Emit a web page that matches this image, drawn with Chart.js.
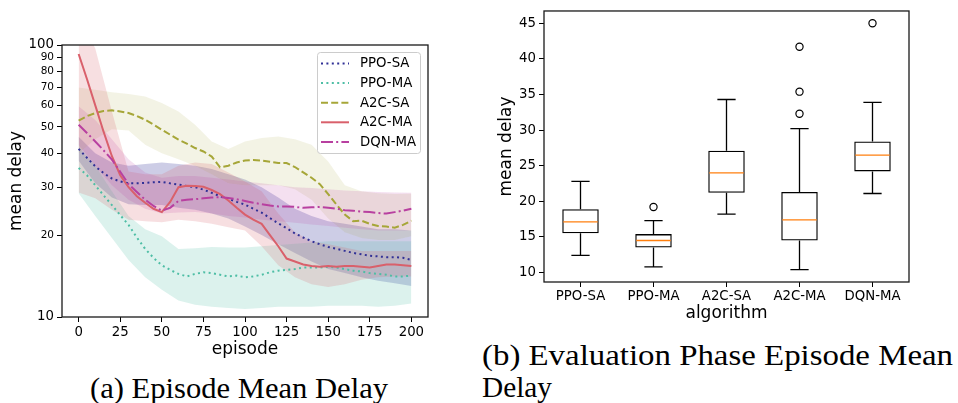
<!DOCTYPE html>
<html>
<head>
<meta charset="utf-8">
<script src="https://cdn.jsdelivr.net/npm/chart.js@4.4.0/dist/chart.umd.min.js"></script>
<style>
body{margin:0;background:#fff;width:958px;height:403px;overflow:hidden;position:relative;}
canvas{position:absolute;top:0;}
#c1{left:0;}
#c2{left:480px;}
.cap{position:absolute;margin:0;font-family:"Liberation Serif",serif;font-size:29px;line-height:29px;white-space:nowrap;transform-origin:0 0;color:#000;}
</style>
</head>
<body>
<canvas id="c1" width="440" height="360"></canvas>
<canvas id="c2" width="478" height="330"></canvas>
<p class="cap" style="left:90px;top:374px" data-w="298">(a) Episode Mean Delay</p>
<p class="cap" style="left:482px;top:341px" data-w="471">(b) Evaluation Phase Episode Mean</p>
<p class="cap" style="left:482px;top:373px" data-w="70">Delay</p>
<script>
'use strict';
// training curves (left), sampled every 5 episodes
const episodes = [0,5,10,15,20,25,30,35,40,45,50,55,60,65,70,75,80,85,90,95,100,105,110,115,120,125,130,135,140,145,150,155,160,165,170,175,180,185,190,195,200];
const ppoSaMean = [41.5,38.5,35.8,33.8,32.3,31.5,31.0,31.0,31.1,31.3,31.4,31.0,30.7,30.3,30.0,29.4,28.6,27.8,27.2,26.5,25.9,25.0,24.2,23.1,22.1,21.2,20.3,19.6,19.0,18.5,18.1,17.8,17.5,17.2,17.0,16.8,16.7,16.6,16.6,16.5,16.2];
const ppoMaMean = [35.3,33.2,30.5,28.0,25.8,23.7,21.8,19.6,17.8,16.5,15.5,14.9,14.4,14.1,14.4,14.6,14.5,14.3,14.1,14.2,14.0,14.1,14.3,14.6,14.8,14.9,15.0,15.2,15.2,15.2,15.3,15.2,15.0,14.8,14.7,14.5,14.4,14.3,14.1,14.1,14.2];
const a2cSaMean = [52.7,54.8,56.2,57.2,57.5,57.0,56.2,54.8,53.1,51.0,48.8,46.8,44.9,43.4,41.8,40.6,38.9,35.5,36.0,37.0,37.6,37.8,37.6,37.2,36.8,36.8,35.6,34.0,32.5,30.8,28.3,25.9,23.8,22.5,22.6,22.0,21.6,21.5,21.3,21.8,22.6];
const a2cMaMean = [92.7,75.0,60.0,48.0,39.0,33.2,30.0,27.8,26.3,25.0,24.3,26.5,30.0,30.4,30.3,30.1,29.3,28.3,26.8,25.2,23.8,22.8,22.0,20.0,18.2,16.4,16.0,15.6,15.4,15.3,15.4,15.3,15.4,15.4,15.3,15.2,15.4,15.6,15.6,15.5,15.4];
const dqnMaMean = [50.9,47.5,44.2,41.0,37.9,34.2,30.8,28.8,27.0,25.6,24.6,25.2,26.7,27.0,27.1,27.3,27.5,27.6,27.4,27.1,26.7,26.3,26.0,25.7,25.5,25.5,25.4,25.2,25.3,25.4,25.2,25.0,24.7,24.6,24.4,24.3,24.1,24.0,24.3,24.6,25.0];

// spread bands, every 10 episodes
const bandEpisodes = [0,10,20,30,40,50,60,70,80,90,100,110,120,130,140,150,160,170,180,190,200];
const ppoSaHi = [46,40,37,36,36.5,37,36.5,36,35,33.5,32,30,27.5,25,23.5,22.5,22,21.5,21,21,20.8];
const ppoSaLo = [37.5,31,27.5,26,25.8,25.8,25.2,24.8,24,23,21.5,20,18.5,17.2,16,15,14.5,14,13.6,13.3,13.0];
const ppoMaHi = [42,36,29,23.5,21,19.8,17.8,17.9,18.1,18.0,18.0,18.2,18.4,18.6,18.8,19.0,19.0,19.0,19.0,19.0,19.0];
const ppoMaLo = [28.5,23.5,19.5,16.2,14.0,12.6,11.5,11.1,10.9,10.8,10.7,10.8,10.9,10.9,10.9,11.0,11.0,11.0,10.9,11.0,11.2];
const a2cSaHi = [69.8,68.5,67.1,66,64.7,61.2,57.0,50.9,44.2,41.5,44.2,45.5,46.1,45,43.0,37.3,30.5,29,28.5,28.3,28.4];
const a2cSaLo = [40,45,49,48.5,43,40,38,36,33.5,31,30.5,30.5,30.5,29.5,27,23,20.5,19.5,19.2,19.2,19.8];
const a2cMaHi = [130,97,57,34.3,33.5,33.5,36,37,36.5,34,31.5,29,24,20.5,19,18.5,18,17.5,17.5,17.5,17.5];
const a2cMaLo = [28.7,27.3,24.8,22.8,22.5,22.3,22.8,22.5,22.0,21.4,20.8,18.2,15.5,14.0,13.2,12.9,13.2,13.7,14.0,14.1,14.1];
const dqnMaHi = [59.5,53,45,38,34,32.5,33,33,32.5,32,31.5,31,30.5,30,29.8,29.5,29.2,29,28.8,28.7,28.6];
const dqnMaLo = [43,36,30.5,27,25,24,24.2,24.3,24.0,23.5,23.2,22.8,22.5,22.2,21.9,21.6,21.3,21.0,20.8,20.8,20.8];

const episodeTicks = [0,25,50,75,100,125,150,175,200];
const delayTicks = [10,20,30,40,50,60,70,80,90,100];

// evaluation box plot (right)
const algorithms = ['PPO-SA','PPO-MA','A2C-SA','A2C-MA','DQN-MA'];
const whiskerLow = [12.4,10.8,18.2,10.4,21.1];
const q1 = [15.5,13.5,21.2,14.5,24.2];
const median = [17.1,14.5,24.0,17.4,26.5];
const q3 = [18.9,15.4,27.1,21.3,28.4];
const whiskerHigh = [22.8,17.3,34.3,30.2,33.9];
const outlierAlgs = ['PPO-MA','A2C-MA','A2C-MA','A2C-MA','DQN-MA'];
const outlierValues = [19.2,32.3,35.4,41.7,45.0];
const boxTicks = [10,15,20,25,30,35,40,45];

const FONT = 'DejaVu Sans';
const tickFont = {family: FONT, size: 13.3};
const titleFont = {family: FONT, size: 17, lineHeight: 1};

const series = [
	{label: 'PPO-SA', mean: ppoSaMean, hi: ppoSaHi, lo: ppoSaLo, color: [48,48,150], band: 0.24, dash: [2,3.4]},
	{label: 'PPO-MA', mean: ppoMaMean, hi: ppoMaHi, lo: ppoMaLo, color: [78,190,165], band: 0.2, dash: [2,3.4]},
	{label: 'A2C-SA', mean: a2cSaMean, hi: a2cSaHi, lo: a2cSaLo, color: [166,166,56], band: 0.13, dash: [7,3.2]},
	{label: 'A2C-MA', mean: a2cMaMean, hi: a2cMaHi, lo: a2cMaLo, color: [217,96,107], band: 0.2, dash: []},
	{label: 'DQN-MA', mean: dqnMaMean, hi: dqnMaHi, lo: dqnMaLo, color: [184,64,160], band: 0.16, dash: [12,3.2,2,3.2]}
];
const rgba = (c, a) => 'rgba(' + c.join(',') + ',' + a + ')';
const pts = (xs, ys) => xs.map((x, i) => ({x: x, y: ys[i]}));

// axes frame on all four sides
const framePlugin = {
	id: 'frame',
	afterDatasetsDraw(chart) {
		const a = chart.chartArea, ctx = chart.ctx;
		ctx.save();
		ctx.strokeStyle = '#1a1a1a';
		ctx.lineWidth = 1.3;
		ctx.strokeRect(a.left, a.top, a.right - a.left, a.bottom - a.top);
		ctx.restore();
	}
};

// matplotlib-style legend box, top right
const lineLegend = {
	id: 'lineLegend',
	afterDraw(chart) {
		const ctx = chart.ctx;
		const lines = chart.data.datasets.filter(d => d.isMean);
		ctx.save();
		ctx.beginPath();
		ctx.roundRect(317.5, 52.5, 103, 101, 3);
		ctx.fillStyle = 'rgba(255,255,255,0.8)';
		ctx.fill();
		ctx.strokeStyle = '#cccccc';
		ctx.lineWidth = 1;
		ctx.stroke();
		lines.forEach((d, i) => {
			const y = 63.5 + i * 19.6;
			ctx.beginPath();
			ctx.setLineDash(d.borderDash);
			ctx.strokeStyle = d.borderColor;
			ctx.lineWidth = d.borderWidth;
			ctx.moveTo(321, y);
			ctx.lineTo(349, y);
			ctx.stroke();
			ctx.setLineDash([]);
			ctx.fillStyle = '#000';
			ctx.font = '13.3px "' + FONT + '"';
			ctx.textBaseline = 'middle';
			ctx.fillText(d.label, 360, y + 0.5);
		});
		ctx.restore();
	}
};

const buildCurveDatasets = () => {
	let sets = [];
	series.forEach((s, i) => {
		sets.push({label: '', data: pts(bandEpisodes, s.hi), fill: '+1', backgroundColor: rgba(s.color, s.band),
			borderColor: 'transparent', borderWidth: 0, pointRadius: 0, order: 40 - i * 2});
		sets.push({label: '', data: pts(bandEpisodes, s.lo), fill: false,
			borderColor: 'transparent', borderWidth: 0, pointRadius: 0, order: 39 - i * 2});
	});
	series.forEach((s, i) => {
		sets.push({label: s.label, isMean: true, data: pts(episodes, s.mean), fill: false,
			borderColor: rgba(s.color, 1), borderWidth: 2, borderDash: s.dash, borderCapStyle: 'butt',
			pointRadius: 0, tension: 0, order: 10 - i});
	});
	return sets;
};

const createCurveChart = () => {
	new Chart(document.getElementById('c1'), {
		type: 'line',
		data: {datasets: buildCurveDatasets()},
		options: {
			responsive: false,
			animation: false,
			events: [],
			layout: {padding: {top: 45, right: 12, left: 0, bottom: 0}},
			plugins: {legend: {display: false}, tooltip: {enabled: false}},
			scales: {
				x: {
					type: 'linear', min: -10, max: 210,
					afterBuildTicks: s => { s.ticks = episodeTicks.map(v => ({value: v})); },
					afterFit: s => { s.height = 43; },
					grid: {drawOnChartArea: false, tickLength: 5, color: '#000'},
					border: {display: false},
					ticks: {padding: 3, font: tickFont, color: '#000', maxRotation: 0, autoSkip: false, callback: v => String(v)},
					title: {display: true, text: 'episode', font: titleFont, color: '#000', padding: {top: 0, bottom: 1.5}}
				},
				y: {
					type: 'logarithmic', min: 10, max: 100,
					afterBuildTicks: s => { s.ticks = delayTicks.map(v => ({value: v})); },
					afterFit: s => { s.width = 62; },
					grid: {drawOnChartArea: false, tickLength: 5, color: '#000'},
					border: {display: false},
					ticks: {
						padding: 3, color: '#000', autoSkip: false, callback: v => String(v),
						font: c => ({family: FONT, size: (c.tick && (c.tick.value === 10 || c.tick.value === 100)) ? 13.3 : 10.5})
					},
					title: {display: true, text: 'mean delay', font: titleFont, color: '#000', padding: {top: 8, bottom: 0}}
				}
			}
		},
		plugins: [framePlugin, lineLegend]
	});
};

// whiskers, caps and medians around the floating-bar boxes
const boxParts = {
	id: 'boxParts',
	afterDatasetsDraw(chart) {
		const ctx = chart.ctx, xs = chart.scales.x, ys = chart.scales.y;
		const step = xs.getPixelForValue(1) - xs.getPixelForValue(0);
		const capHalf = step * 0.125, boxHalf = step * 0.25;
		ctx.save();
		ctx.lineWidth = 1.3;
		algorithms.forEach((a, i) => {
			const x = xs.getPixelForValue(i);
			ctx.strokeStyle = '#000';
			ctx.beginPath();
			ctx.moveTo(x, ys.getPixelForValue(q1[i]));
			ctx.lineTo(x, ys.getPixelForValue(whiskerLow[i]));
			ctx.moveTo(x, ys.getPixelForValue(q3[i]));
			ctx.lineTo(x, ys.getPixelForValue(whiskerHigh[i]));
			ctx.moveTo(x - capHalf, ys.getPixelForValue(whiskerLow[i]));
			ctx.lineTo(x + capHalf, ys.getPixelForValue(whiskerLow[i]));
			ctx.moveTo(x - capHalf, ys.getPixelForValue(whiskerHigh[i]));
			ctx.lineTo(x + capHalf, ys.getPixelForValue(whiskerHigh[i]));
			ctx.stroke();
			ctx.strokeStyle = '#ff7f0e';
			ctx.beginPath();
			ctx.moveTo(x - boxHalf + 1, ys.getPixelForValue(median[i]));
			ctx.lineTo(x + boxHalf - 1, ys.getPixelForValue(median[i]));
			ctx.stroke();
		});
		ctx.restore();
	}
};

const createBoxChart = () => {
	new Chart(document.getElementById('c2'), {
		type: 'bar',
		data: {
			labels: algorithms,
			datasets: [
				{data: algorithms.map((a, i) => [q1[i], q3[i]]), backgroundColor: 'rgba(0,0,0,0)', borderColor: '#000',
					borderWidth: 1.3, borderSkipped: false, barPercentage: 0.5, categoryPercentage: 1},
				{type: 'line', showLine: false, data: outlierAlgs.map((a, i) => ({x: a, y: outlierValues[i]})),
					pointRadius: 3.6, pointBorderColor: '#000', pointBackgroundColor: 'rgba(0,0,0,0)', pointBorderWidth: 1.2}
			]
		},
		options: {
			responsive: false,
			animation: false,
			events: [],
			layout: {padding: {top: 9, right: 49, left: 0, bottom: 0}},
			plugins: {legend: {display: false}, tooltip: {enabled: false}},
			scales: {
				x: {
					type: 'category', offset: true,
					afterFit: s => { s.height = 48; },
					grid: {offset: false, drawOnChartArea: false, tickLength: 5, color: '#000'},
					border: {display: false},
					ticks: {padding: 2, font: tickFont, color: '#000', maxRotation: 0, autoSkip: false},
					title: {display: true, text: 'algorithm', font: titleFont, color: '#000', padding: {top: 0, bottom: 8}}
				},
				y: {
					type: 'linear', min: 8.67, max: 46.73,
					afterBuildTicks: s => { s.ticks = boxTicks.map(v => ({value: v})); },
					afterFit: s => { s.width = 64; },
					grid: {drawOnChartArea: false, tickLength: 5, color: '#000'},
					border: {display: false},
					ticks: {padding: 3, font: tickFont, color: '#000', autoSkip: false, callback: v => String(v)},
					title: {display: true, text: 'mean delay', font: titleFont, color: '#000', padding: {top: 18, bottom: 0}}
				}
			}
		},
		plugins: [framePlugin, boxParts]
	});
};

const fitCaptions = () => {
	document.querySelectorAll('.cap').forEach(el => {
		const w = el.getBoundingClientRect().width;
		el.style.transform = 'scaleX(' + (el.dataset.w / w) + ')';
	});
};

createCurveChart();
createBoxChart();
fitCaptions();
</script>
</body>
</html>
